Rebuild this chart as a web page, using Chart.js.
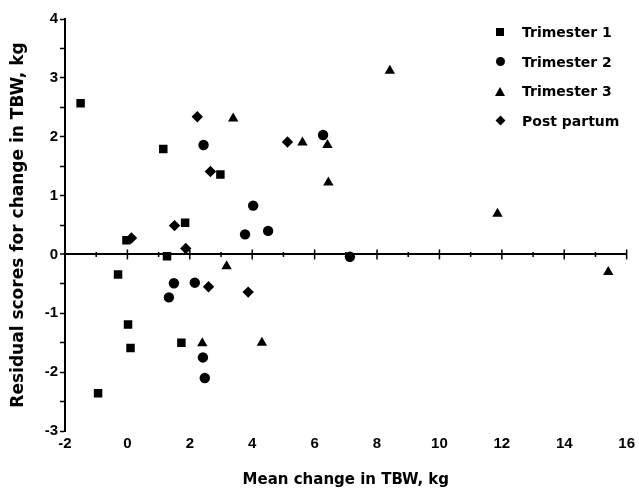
<!DOCTYPE html>
<html>
<head>
<meta charset="utf-8">
<script src="https://cdn.jsdelivr.net/npm/chart.js@4.4.1/dist/chart.umd.min.js"></script>
<style>
  html, body { margin: 0; padding: 0; background: #fff; }
  #wrap { position: relative; width: 639px; height: 493px; }
  #legend { position: absolute; left: 493px; top: 17px; font: bold 14px "DejaVu Sans", sans-serif; color: #000; }
  #legend .row { display: flex; align-items: center; height: 29.7px; }
  #legend .mk { width: 14px; height: 14px; display: flex; align-items: center; justify-content: center; margin-right: 15px; }
  .sq { width: 8px; height: 8px; background: #000; }
  .ci { width: 9px; height: 9px; border-radius: 50%; background: #000; }
  .tr { width: 0; height: 0; border-left: 5px solid transparent; border-right: 5px solid transparent; border-bottom: 9px solid #000; }
  .di { width: 7px; height: 7px; background: #000; transform: rotate(45deg); }
</style>
</head>
<body>
<div id="wrap">
  <canvas id="chart"></canvas>
  <div id="legend"></div>
</div>
<script>
// values
const t1X = [-1.5, 1.15, 2.98, 1.85, -0.03, 1.27, -0.3, 0.02, 0.1, 1.73, -0.94];
const t1Y = [2.57, 1.79, 1.36, 0.54, 0.24, -0.03, -0.34, -1.19, -1.59, -1.50, -2.36];

const t2X = [2.44, 4.03, 3.77, 4.51, 6.27, 7.13, 1.49, 2.16, 1.33, 2.42, 2.48];
const t2Y = [1.86, 0.83, 0.34, 0.40, 2.03, -0.04, -0.49, -0.48, -0.73, -1.75, -2.10];

const t3X = [3.39, 8.41, 5.61, 6.41, 6.44, 11.86, 15.41, 3.18, 2.40, 4.31];
const t3Y = [2.31, 3.12, 1.90, 1.86, 1.22, 0.69, -0.30, -0.20, -1.51, -1.50];

const ppX = [2.24, 5.13, 2.66, 1.51, 0.13, 1.87, 2.60, 3.87];
const ppY = [2.34, 1.91, 1.41, 0.49, 0.28, 0.10, -0.55, -0.64];

const seriesNames = ["Trimester 1", "Trimester 2", "Trimester 3", "Post partum"];
const xTitle = "Mean change in TBW, kg";
const yTitle = "Residual scores for change in TBW, kg";

const pts = (xs, ys) => xs.map((x, i) => ({ x: x, y: ys[i] }));

const datasets = [
  { label: seriesNames[0], data: pts(t1X, t1Y), pointStyle: 'rect', pointRadius: 6 },
  { label: seriesNames[1], data: pts(t2X, t2Y), pointStyle: 'circle', pointRadius: 5.2 },
  { label: seriesNames[2], data: pts(t3X, t3Y), pointStyle: 'triangle', pointRadius: 6 },
  { label: seriesNames[3], data: pts(ppX, ppY), pointStyle: 'rectRot', pointRadius: 5.7 }
].map(d => Object.assign(d, { backgroundColor: '#000', borderColor: '#000', borderWidth: 0 }));

// tick marks crossing the zero line
const zeroTicks = {
  id: 'zeroTicks',
  beforeDatasetsDraw(chart) {
    const { ctx, scales: { x, y } } = chart;
    const y0 = y.getPixelForValue(0);
    ctx.save();
    ctx.strokeStyle = '#000';
    x.ticks.forEach(t => {
      if (t.value === x.min) return;
      const px = x.getPixelForValue(t.value);
      const major = t.value % 2 === 0;
      const h = major ? 5 : 2.5;
      ctx.lineWidth = 1.5;
      ctx.beginPath();
      ctx.moveTo(px, y0 - h);
      ctx.lineTo(px, y0 + h);
      ctx.stroke();
    });
    ctx.restore();
  }
};

const tickFont = { family: '"Liberation Sans", Arial, sans-serif', size: 15, weight: 'bold' };

new Chart(document.getElementById('chart').getContext('2d'), {
  type: 'scatter',
  data: { datasets },
  options: {
    responsive: true,
    maintainAspectRatio: false,
    animation: false,
    layout: { padding: { left: 8, right: 11, top: 19, bottom: 0 } },
    plugins: { legend: { display: false }, tooltip: { enabled: false } },
    scales: {
      x: {
        type: 'linear', min: -2, max: 16,
        border: { display: false },
        grid: { display: false, drawTicks: false },
        ticks: {
          stepSize: 1, autoSkip: false, maxRotation: 0, padding: 4,
          color: '#000', font: tickFont,
          callback: v => (v % 2 === 0 ? v : '')
        },
        title: {
          display: true, text: xTitle, color: '#000',
          font: { family: '"DejaVu Sans", sans-serif', size: 15, weight: 'bold' },
          padding: { top: 14, bottom: 4 }
        }
      },
      y: {
        type: 'linear', min: -3, max: 4,
        border: { color: '#000', width: 2 },
        grid: {
          drawTicks: true, tickLength: 5, tickColor: '#000', tickWidth: 1.5,
          color: c => (c.tick && c.tick.value === 0 ? '#000' : 'rgba(0,0,0,0)'),
          lineWidth: c => (c.tick && c.tick.value === 0 ? 2 : 1)
        },
        ticks: {
          stepSize: 0.5, autoSkip: false, padding: 2,
          color: '#000', font: tickFont,
          callback: v => (Number.isInteger(v) ? v : '')
        },
        title: {
          display: true, text: yTitle, color: '#000',
          font: { family: '"DejaVu Sans", sans-serif', size: 17, weight: 'bold' },
          padding: 0
        },
        afterFit: s => { s.width = 57; }
      }
    }
  },
  plugins: [zeroTicks]
});

// legend
const shapes = ['sq', 'ci', 'tr', 'di'];
const legend = document.getElementById('legend');
seriesNames.forEach((name, i) => {
  const row = document.createElement('div');
  row.className = 'row';
  row.innerHTML = '<span class="mk"><span class="' + shapes[i] + '"></span></span><span>' + name + '</span>';
  legend.appendChild(row);
});
</script>
</body>
</html>
